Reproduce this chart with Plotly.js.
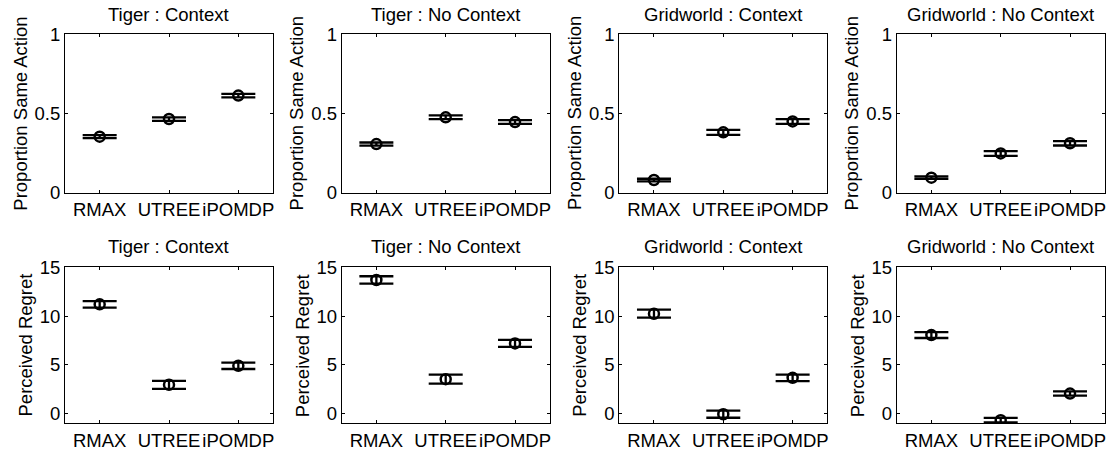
<!DOCTYPE html>
<html><head><meta charset="utf-8">
<script src="https://cdn.plot.ly/plotly-3.0.1.min.js"></script>
<style>html,body{margin:0;padding:0;background:#fff}</style>
</head><body><div id="chart" style="width:1109px;height:450px"></div>
<script>
const categories = ['RMAX', 'UTREE', 'iPOMDP'];
const panelTitles = ['Tiger : Context', 'Tiger : No Context', 'Gridworld : Context', 'Gridworld : No Context'];
const topYLabel = 'Proportion Same Action';
const bottomYLabel = 'Perceived Regret';
const topTickVals = [0, 0.5, 1];
const topTickText = ['0', '0.5', '1'];
const bottomTickVals = [0, 5, 10, 15];
const bottomTickText = ['0', '5', '10', '15'];

// Proportion Same Action (mean, error)
const sameTigerCtx = [0.354, 0.465, 0.613];
const sameTigerCtxErr = [0.009, 0.011, 0.011];
const sameTigerNoCtx = [0.307, 0.476, 0.446];
const sameTigerNoCtxErr = [0.010, 0.012, 0.012];
const sameGridCtx = [0.080, 0.381, 0.450];
const sameGridCtxErr = [0.008, 0.016, 0.015];
const sameGridNoCtx = [0.095, 0.248, 0.312];
const sameGridNoCtxErr = [0.008, 0.015, 0.014];

// Perceived Regret (mean, error)
const regretTigerCtx = [11.2, 2.95, 4.9];
const regretTigerCtxErr = [0.33, 0.41, 0.33];
const regretTigerNoCtx = [13.7, 3.53, 7.19];
const regretTigerNoCtxErr = [0.38, 0.46, 0.36];
const regretGridCtx = [10.24, -0.07, 3.66];
const regretGridCtxErr = [0.41, 0.36, 0.34];
const regretGridNoCtx = [8.05, -0.68, 2.05];
const regretGridNoCtxErr = [0.30, 0.24, 0.22];

const topSeries = [[sameTigerCtx, sameTigerCtxErr], [sameTigerNoCtx, sameTigerNoCtxErr], [sameGridCtx, sameGridCtxErr], [sameGridNoCtx, sameGridNoCtxErr]];
const bottomSeries = [[regretTigerCtx, regretTigerCtxErr], [regretTigerNoCtx, regretTigerNoCtxErr], [regretGridCtx, regretGridCtxErr], [regretGridNoCtx, regretGridNoCtxErr]];

const W = 1109, H = 450;
const FONT = 'Liberation Sans, Arial, Helvetica, sans-serif';
const FS = 18.5;
const lefts = [65, 341.7, 619.3, 896.7];
const pw = 208;
const rows = [{top: 34.3, bottom: 192.7}, {top: 267.3, bottom: 423.3}];

const xpos = [1, 2, 3];
const data = [];
const layout = {
  width: W, height: H,
  margin: {l: 0, r: 0, t: 0, b: 0},
  paper_bgcolor: '#fff', plot_bgcolor: '#fff',
  showlegend: false,
  font: {family: FONT, size: FS, color: '#000'},
  annotations: []
};

function axisBase() {
  return {
    showline: true, linecolor: '#000', linewidth: 1, mirror: 'ticks',
    ticks: 'inside', ticklen: 3, tickcolor: '#000', tickwidth: 1,
    showgrid: false, zeroline: false, fixedrange: true,
    tickfont: {family: FONT, size: FS, color: '#000'}
  };
}

let idx = 0;
for (let r = 0; r < 2; r++) {
  const series = r === 0 ? topSeries : bottomSeries;
  for (let c = 0; c < 4; c++) {
    idx++;
    const xa = 'xaxis' + (idx === 1 ? '' : idx);
    const ya = 'yaxis' + (idx === 1 ? '' : idx);
    const xref = 'x' + (idx === 1 ? '' : idx);
    const yref = 'y' + (idx === 1 ? '' : idx);
    const x0 = lefts[c] / W, x1 = (lefts[c] + pw) / W;
    const y0 = 1 - rows[r].bottom / H, y1 = 1 - rows[r].top / H;
    layout[xa] = Object.assign(axisBase(), {
      domain: [x0, x1], anchor: yref, range: [0.5, 3.5],
      tickmode: 'array', tickvals: xpos, ticktext: categories, tickangle: 0
    });
    layout[ya] = Object.assign(axisBase(), {
      domain: [y0, y1], anchor: xref,
      range: r === 0 ? [0, 1] : [-1, 15],
      tickmode: 'array',
      tickvals: r === 0 ? topTickVals : bottomTickVals,
      ticktext: r === 0 ? topTickText : bottomTickText
    });
    const [vals, errs] = series[c];
    data.push({
      type: 'scatter', mode: 'markers', x: xpos, y: vals,
      xaxis: xref, yaxis: yref,
      marker: {symbol: 'circle-open', size: 10, color: '#000', line: {width: 2.5, color: '#000'}},
      error_y: {type: 'data', array: errs, visible: true, color: '#000', thickness: 2.3, width: 17},
      hoverinfo: 'skip'
    });
    // title
    const titleCenterY = r === 0 ? 14.2 : 246.8;
    layout.annotations.push({
      xref: 'paper', yref: 'paper', x: (lefts[c] + pw / 2) / W, y: 1 - titleCenterY / H,
      xanchor: 'center', yanchor: 'middle', showarrow: false,
      text: panelTitles[c], font: {family: FONT, size: FS, color: '#000'}
    });
    // y label
    const labOffset = r === 0 ? 44.8 : 39.8;
    layout.annotations.push({
      xref: 'paper', yref: 'paper', x: (lefts[c] - labOffset) / W,
      y: 1 - (rows[r].top + rows[r].bottom) / 2 / H,
      xanchor: 'center', yanchor: 'middle', showarrow: false, textangle: -90,
      text: r === 0 ? topYLabel : bottomYLabel, font: {family: FONT, size: FS, color: '#000'}
    });
  }
}

Plotly.newPlot('chart', data, layout, {staticPlot: true, displayModeBar: false});
</script></body></html>
